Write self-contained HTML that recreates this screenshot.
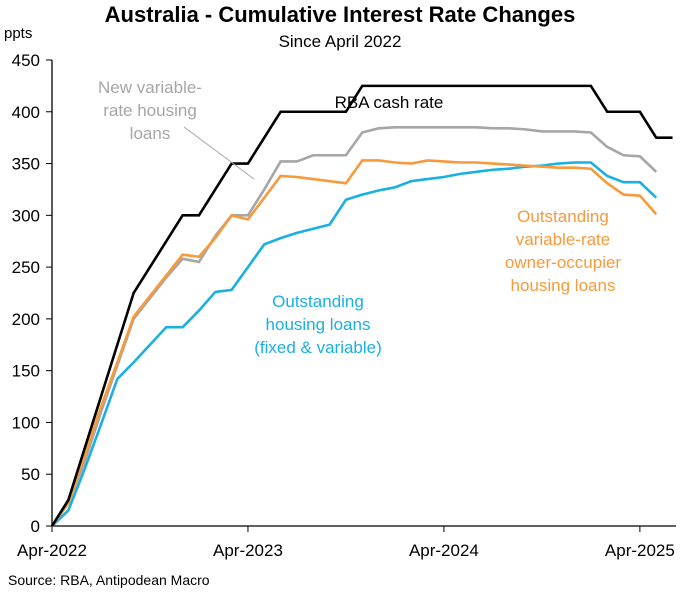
<!DOCTYPE html>
<html><head><meta charset="utf-8"><style>
body{margin:0;background:#fff;font-family:"Liberation Sans",sans-serif}
svg text{font-family:"Liberation Sans",sans-serif}
</style></head><body>
<svg id="c" width="684" height="589">
<text x="340" y="22" text-anchor="middle" font-size="22" font-weight="bold">Australia - Cumulative Interest Rate Changes</text>
<text x="340" y="47" text-anchor="middle" font-size="17">Since April 2022</text>
<text x="4" y="38" font-size="15">ppts</text>
<text x="8" y="585" font-size="14">Source: RBA, Antipodean Macro</text>
<g id="axes"></g><g id="lines"></g>
<text x="389" y="108" text-anchor="middle" font-size="17" fill="#000">RBA cash rate</text>
<g fill="#a6a6a6" font-size="17" text-anchor="middle">
<text x="150" y="93">New variable-</text><text x="150" y="116">rate housing</text><text x="150" y="139">loans</text></g>
<line x1="184" y1="127" x2="254" y2="179" stroke="#a6a6a6" stroke-width="1"/>
<g fill="#1ab0e0" font-size="17" text-anchor="middle">
<text x="318" y="307">Outstanding</text><text x="318" y="330">housing loans</text><text x="318" y="353">(fixed &amp; variable)</text></g>
<g fill="#f79a3c" font-size="17" text-anchor="middle">
<text x="563" y="222">Outstanding</text><text x="563" y="245">variable-rate</text><text x="563" y="268">owner-occupier</text><text x="563" y="291">housing loans</text></g>
</svg>
<script>
const yTicks=[0,50,100,150,200,250,300,350,400,450];
const xTickLabels=["Apr-2022","Apr-2023","Apr-2024","Apr-2025"];
const xTickMonths=[0,12,24,36];
const cashRate=[0,25,75,125,175,225,250,275,300,300,325,350,350,375,400,400,400,400,400,425,425,425,425,425,425,425,425,425,425,425,425,425,425,425,400,400,400,375,375];
const newVariable=[0,22,62,110,155,200,220,240,258,255,280,300,300,325,352,352,358,358,358,380,384,385,385,385,385,385,385,384,384,383,381,381,381,380,366,358,357,342];
const ownerOccupier=[0,22,68,115,158,202,222,242,262,260,278,300,296,317,338,337,335,333,331,353,353,351,350,353,352,351,351,350,349,348,347,346,346,345,331,320,319,301];
const outstanding=[0,15,55,98,142,158,175,192,192,208,226,228,250,272,278,283,287,291,315,320,324,327,333,335,337,340,342,344,345,347,348,350,351,351,338,332,332,317];
const NS="http://www.w3.org/2000/svg";
const x=m=>52+m*16.33, y=v=>526-v*1.0356;
const ax=document.getElementById('axes'), ln=document.getElementById('lines');
function mk(tag,attrs,parent){const e=document.createElementNS(NS,tag);for(const k in attrs)e.setAttribute(k,attrs[k]);parent.appendChild(e);return e;}
const yl=mk('line',{x1:52,y1:y(450),x2:52,y2:526,stroke:'#000','stroke-width':1.3},ax);


const xl=mk('line',{x1:52,y1:526,x2:676,y2:526,stroke:'#000','stroke-width':1.3},ax);


yTicks.forEach(v=>{
 mk('line',{x1:46,x2:52,y1:y(v),y2:y(v),stroke:'#000'},ax);
 const t=mk('text',{x:40,y:y(v)+6,'text-anchor':'end','font-size':17},ax);t.textContent=v;
 
 
});
xTickMonths.forEach((m,i)=>{
 mk('line',{x1:x(m),x2:x(m),y1:526,y2:532,stroke:'#000'},ax);
 const t=mk('text',{x:x(m),y:556,'text-anchor':'middle','font-size':17},ax);t.textContent=xTickLabels[i];
 
 
});
function line(d,c,name){
 const p=mk('polyline',{points:d.map((v,i)=>x(i)+','+y(v)).join(' '),fill:'none',stroke:c,'stroke-width':2.6,'stroke-linejoin':'miter'},ln);
 
 
}
line(outstanding,'#1ab0e0','series-outstanding-housing-loans');
line(newVariable,'#a6a6a6','series-new-variable-rate-loans');
line(ownerOccupier,'#f79a3c','series-owner-occupier-loans');
line(cashRate,'#000','series-rba-cash-rate');
</script>
</body></html>
